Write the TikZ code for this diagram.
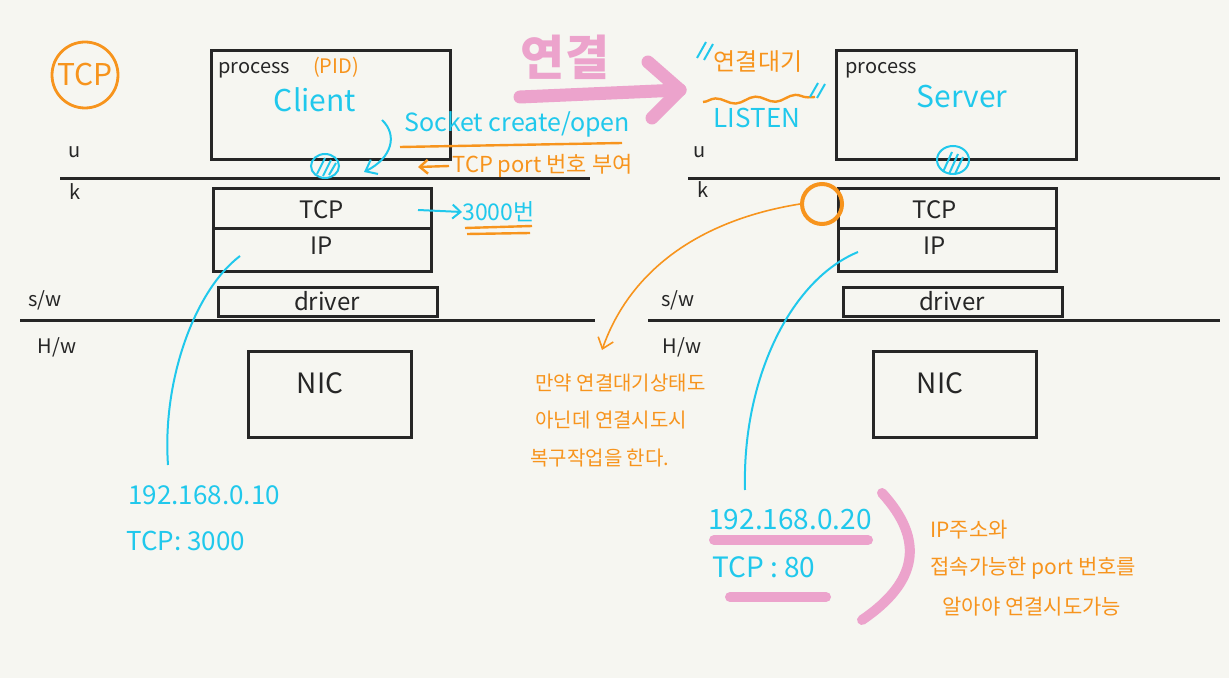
\documentclass[tikz,border=0pt]{standalone}
\usepackage{fontspec}
\setmainfont{Noto Sans CJK KR}
\usetikzlibrary{arrows.meta,decorations.pathmorphing}
\definecolor{penorange}{RGB}{247,148,29}
\definecolor{pencyan}{RGB}{32,200,236}
\definecolor{penpink}{RGB}{236,163,204}
\definecolor{paper}{RGB}{246,246,241}
\newcommand{\pt}[1]{\fontsize{#1}{#1}\selectfont}

\begin{document}
\begin{tikzpicture}[x=0.5pt,y=-0.5pt]
	\tikzstyle{every node}+=[inner sep=0pt]
	\tikzstyle{layer}=[draw=black!85,line width=1.5pt]
	\tikzstyle{sep}=[black!85,line width=1.5pt]
	\tikzstyle{blackpen}=[black!85,font=\pt{10}]
	\tikzstyle{boxtext}=[black!85,font=\pt{12}]
	\tikzstyle{note}=[penorange,font=\pt{10},anchor=west]
	\tikzstyle{cyanpen}=[pencyan,line width=1pt]
	\tikzstyle{marker}=[penpink,line width=5pt,line cap=round,line join=round]
	\fill [paper] (0,0) rectangle (1229,678);
	\useasboundingbox (0,0) rectangle (1229,678);
	\node [draw=penorange,circle,line width=1.4pt,minimum size=33pt,text=penorange,font=\pt{15}] (tcpmark) at (85,75) {TCP};
	\draw [layer] (211,51) rectangle (450,160);
	\node [blackpen,anchor=west] (cproc) at (218,70) {process};
	\node [penorange,font=\pt{10}] (cpid) at (336,67) {(PID)};
	\node [pencyan,font=\pt{15}] (client) at (315,100) {Client};
	\draw [layer] (836,51) rectangle (1076,160);
	\node [blackpen,anchor=west] (sproc) at (845,70) {process};
	\node [pencyan,font=\pt{15}] (server) at (962,97) {Server};
	\draw [sep] (60,179) -- (590,179);
	\draw [sep] (688,179) -- (1220,179);
	\draw [sep] (20,320) -- (595,320);
	\draw [sep] (648,320) -- (1220,320);
	\node [blackpen] (cu) at (75,152) {u};
	\node [blackpen] (ck) at (75,192) {k};
	\node [blackpen] (csw) at (45,300) {s/w};
	\node [blackpen] (chw) at (57,347) {H/w};
	\node [blackpen] (su) at (700,152) {u};
	\node [blackpen] (sk) at (703,190) {k};
	\node [blackpen] (ssw) at (678,300) {s/w};
	\node [blackpen] (shw) at (682,347) {H/w};
	\draw [layer] (213,189) rectangle (431,272);
	\draw [layer] (213,229) -- (431,229);
	\node [boxtext] (ctcp) at (322,210) {TCP};
	\node [boxtext] (cip) at (322,246) {IP};
	\draw [layer] (838,189) rectangle (1056,272);
	\draw [layer] (838,229) -- (1056,229);
	\node [boxtext] (stcp) at (935,210) {TCP};
	\node [boxtext] (sip) at (935,246) {IP};
	\draw [layer] (218,288) rectangle (437,316);
	\node [boxtext] (cdrv) at (327,301) {driver};
	\draw [layer] (843,288) rectangle (1062,316);
	\node [boxtext] (sdrv) at (952,301) {driver};
	\draw [layer] (248,351) rectangle (411,437);
	\node [boxtext,font=\pt{14}] (cnic) at (320,383) {NIC};
	\draw [layer] (873,351) rectangle (1036,437);
	\node [boxtext,font=\pt{14}] (snic) at (940,383) {NIC};
	\draw [cyanpen] (325,166) ellipse [x radius=7pt,y radius=6pt];
	\draw [cyanpen] (317,174) -- (325,158) (323,176) -- (331,160) (329,175) -- (336,163);
	\draw [cyanpen] (953,160) ellipse [x radius=8pt,y radius=7pt];
	\draw [cyanpen] (943,172) -- (952,152) (949,174) -- (958,154) (955,174) -- (963,157);
	\node [pencyan,font=\pt{12.5}] (sockopen) at (517,124) {Socket create/open};
	\coordinate (sockfrom) at (382,120);
	\coordinate (sockto) at (364,172);
	\draw [cyanpen,-{Straight Barb[length=5pt,width=8pt]}] (sockfrom) .. controls (398,135) and (392,158) .. (sockto);
	\draw [penorange,line width=1.2pt] (400,147) -- (622,143);
	\node [note,font=\pt{11}] (portno) at (452,166) {TCP port 번호 부여};
	\coordinate (portarr) at (418,167);
	\draw [penorange,line width=1.2pt,-{Straight Barb[length=4pt,width=7pt]}] (portno.west) ++(-3,0) -- (portarr);
	\node [pencyan,font=\pt{11.5},anchor=west] (port3000) at (462,212) {3000번};
	\coordinate (portfrom) at (418,210);
	\draw [cyanpen,-{Straight Barb[length=4pt,width=7pt]}] (portfrom) -- (port3000.west);
	\draw [penorange,line width=1.2pt] (465,228) -- (532,226) (467,234) -- (530,233);
	\node [penpink,font=\bfseries\pt{24}] (conn) at (565,57) {연결};
	\coordinate (conntail) at (520,97);
	\coordinate (conntip) at (680,90);
	\draw [marker,line width=6.5pt] (conntail) -- (conntip);
	\draw [marker,line width=6.5pt] (648,62) -- (conntip) -- (652,118);
	\node [penorange,font=\pt{12}] (waitkr) at (758,62) {연결대기};
	\draw [cyanpen] (697,58) -- (706,42) (704,60) -- (713,44);
	\draw [penorange,line width=1.2pt,decorate,decoration={snake,amplitude=1.5pt,segment length=20pt}] (703,102) -- (815,97);
	\node [pencyan,font=\pt{13}] (listen) at (757,118) {LISTEN};
	\draw [cyanpen] (810,97) -- (818,83) (817,98) -- (825,84);
	\node [draw=penorange,circle,line width=2pt,minimum size=20pt] (listenmark) at (822,204) {};
	\coordinate (warntip) at (602,350);
	\draw [penorange,line width=0.8pt,-{Straight Barb[length=5pt,width=8pt]}] (listenmark.west) .. controls (700,220) and (630,270) .. (warntip);
	\node [note] (warn1) at (535,383) {만약 연결대기상태도};
	\node [note] (warn2) at (535,420) {아닌데 연결시도시};
	\node [note] (warn3) at (530,458) {복구작업을 한다.};
	\coordinate (cipfoot) at (168,465);
	\coordinate (sipfoot) at (745,490);
	\draw [cyanpen] (240,256) .. controls (195,290) and (162,380) .. (cipfoot);
	\draw [cyanpen] (858,252) .. controls (790,280) and (742,380) .. (sipfoot);
	\node [pencyan,font=\pt{13},anchor=west] (caddr) at (128,495) {192.168.0.10};
	\node [pencyan,font=\pt{13},anchor=west] (cport) at (126,541) {TCP: 3000};
	\draw [marker] (714,540) -- (868,540);
	\draw [marker] (730,597) -- (826,597);
	\draw [marker] (882,493) .. controls (925,540) and (918,582) .. (862,620);
	\node [pencyan,font=\pt{14},anchor=west] (saddr) at (708,520) {192.168.0.20};
	\node [pencyan,font=\pt{14},anchor=west] (sport) at (712,567) {TCP : 80};
	\node [note,font=\pt{10.5}] (need1) at (930,530) {IP주소와};
	\node [note,font=\pt{10.5}] (need2) at (930,568) {접속가능한 port 번호를};
	\node [note,font=\pt{10.5}] (need3) at (942,607) {알아야 연결시도가능};
\end{tikzpicture}
\end{document}
